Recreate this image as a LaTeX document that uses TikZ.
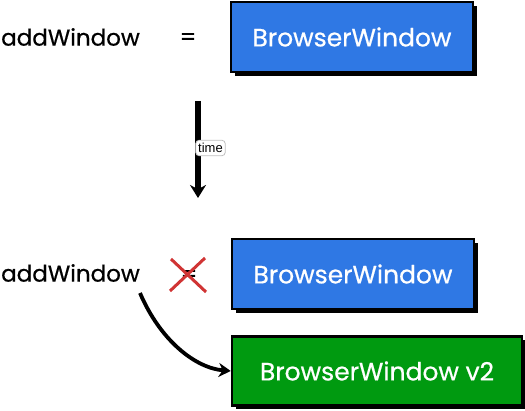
\documentclass[tikz,border=0pt]{standalone}
\usepackage{fontspec}
\setmainfont{Poppins}[FakeBold=0.6]
\newfontfamily\labelfont{Liberation Sans}
\usetikzlibrary{arrows.meta,shadows}
\definecolor{bwblue}{HTML}{2F78E4}
\definecolor{bwgreen}{HTML}{009A10}
\definecolor{xred}{HTML}{D03434}
\tikzset{
  winbox/.style={draw=black, line width=2.5pt, text=white, font=\fontsize{25}{28}\selectfont, inner sep=0pt,
    drop shadow={shadow xshift=4pt, shadow yshift=-4pt, opacity=1, fill=black}},
  lbl/.style={font=\fontsize{23}{27}\selectfont, inner sep=0pt},
  conn/.style={line width=5.5pt, -{Stealth[length=13pt,width=16pt]}},
  conn2/.style={line width=3.8pt, -{Stealth[length=12pt,width=14pt]}},
}
\begin{document}
\begin{tikzpicture}[x=1pt,y=-1pt]
\useasboundingbox (0,0) rectangle (525,411);
\node[winbox, fill=bwblue, minimum width=242pt, minimum height=70pt] (b1) at (352,37) {BrowserWindow};
\node[lbl, anchor=west] (a1) at (1,37) {addWindow};
\node[lbl] (eq1) at (188,39) {=};
\coordinate (t1) at (198,101);
\coordinate (t2) at (198,198);
\draw[conn] (t1) -- (t2);
\node[draw=black!25, line width=0.8pt, fill=white, rounded corners=3.5pt, font=\labelfont\fontsize{13}{14}\selectfont, inner xsep=2.5pt, inner ysep=3pt] (tl) at (210.5,148) {time};
\node[winbox, fill=bwblue, minimum width=242pt, minimum height=70pt] (b2) at (353,274) {BrowserWindow};
\node[lbl, anchor=west] (a2) at (1,273) {addWindow};
\node[lbl] (eq2) at (189,276) {=};
\coordinate (x1) at (171,259);
\coordinate (x2) at (206,292);
\coordinate (x3) at (205,258);
\coordinate (x4) at (170,291);
\draw[xred, line width=3pt] (x1) -- (x2) (x3) -- (x4);
\node[winbox, fill=bwgreen, minimum width=290pt, minimum height=69pt] (g) at (377,371) {BrowserWindow v2};
\coordinate (cs) at (140,293);
\draw[conn2] (cs) .. controls (160,340) and (195,368) .. (g.west);
\end{tikzpicture}
\end{document}
